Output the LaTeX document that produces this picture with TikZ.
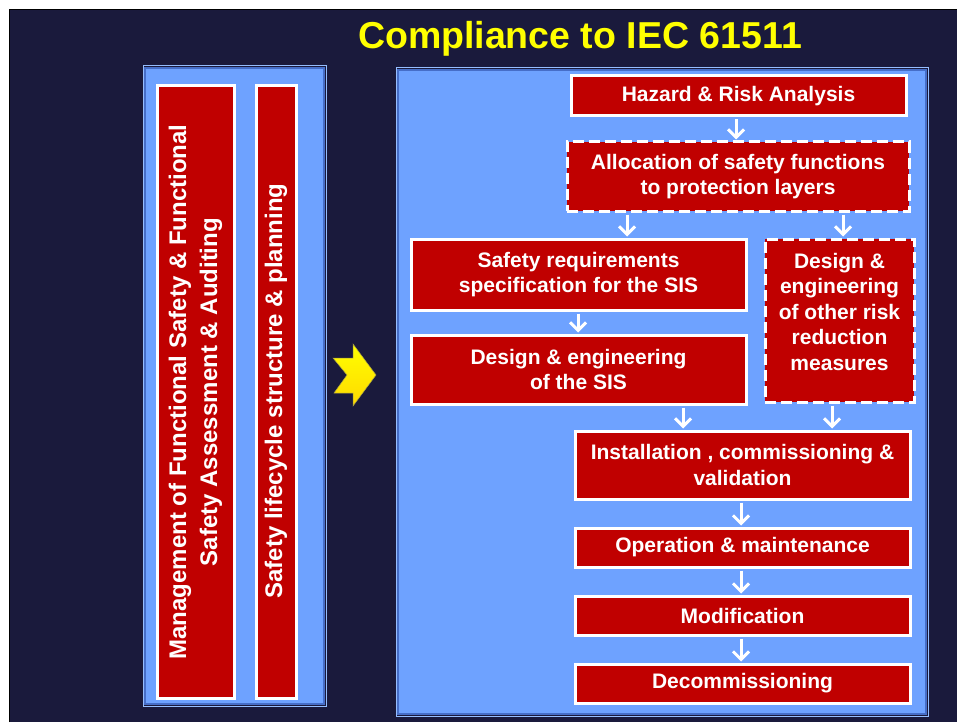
\documentclass[tikz,border=0pt]{standalone}
\usepackage{fontspec}
\setmainfont{Liberation Sans}
\usetikzlibrary{arrows.meta,calc}
\definecolor{navy}{RGB}{26,26,60}
\definecolor{panelblue}{RGB}{110,162,255}
\definecolor{paneledge}{RGB}{70,110,200}
\definecolor{panellight}{RGB}{150,190,255}
\definecolor{boxred}{RGB}{192,0,0}
\definecolor{titleyellow}{RGB}{255,255,0}
\tikzset{
  panel/.style={fill=panelblue, draw=paneledge, line width=2.5pt},
  redbox/.style={fill=boxred, draw=white, line width=3pt, text=white,
    font=\fontsize{21}{25.5}\selectfont\bfseries, align=center, inner sep=0pt},
  dashbox/.style={redbox, dash pattern=on 11pt off 5pt},
  vbox/.style={fill=boxred, draw=white, line width=3pt, inner sep=0pt},
  vtext/.style={text=white, font=\fontsize{24}{31}\selectfont\bfseries, align=center, rotate=90},
  flow/.style={draw=white, line width=3pt, -{Straight Barb[length=8pt,width=16pt,line width=3pt]},
    shorten <=2pt, shorten >=1pt}
}
\begin{document}
\begin{tikzpicture}[x=1pt,y=-1pt]
\useasboundingbox (0,0) rectangle (957,722);
\fill[white] (0,0) rectangle (957,722);
\fill[navy] (9,9) rectangle (957,722);
\draw[black,line width=1.5pt] (9.5,722) -- (9.5,9.5) -- (957,9.5);
% title
\node[text=titleyellow, font=\fontsize{37.5}{40}\selectfont\bfseries] (title) at (580,39) {Compliance to IEC 61511};
% panels
\draw[panel] (145,68) rectangle (324,704);
\draw[panellight, line width=1pt] (143,66) rectangle (326,706);
\draw[panel] (398,70) rectangle (926,714);
\draw[panellight, line width=1pt] (396,68) rectangle (928,716);
% left vertical boxes
\node[vbox, minimum width=77pt, minimum height=612pt] (mgmt) at (195.5,392) {};
\node[vtext] (mgmttext) at (mgmt.center) {Management of Functional Safety \& Functional\\Safety Assessment \& Auditing};
\node[vbox, minimum width=40pt, minimum height=612pt] (life) at (276,392) {};
\node[vtext] (lifetext) at ([yshift=1pt]life.center) {Safety lifecycle structure \& planning};
% yellow arrow
\shade[top color=titleyellow, bottom color=yellow!70!orange, draw=yellow!60!black, line width=0.5pt]
  (333,358) -- (353,358) -- (353,344) -- (376,375) -- (353,406) -- (353,393) -- (334,393) -- (347,375) -- cycle;
% flow boxes
\node[redbox, minimum width=335pt, minimum height=40pt] (haz) at (738.5,96) {Hazard \& Risk Analysis};
\node[dashbox, minimum width=342pt, minimum height=69pt] (alloc) at (738,176.5) {Allocation of safety functions\\to protection layers};
\node[redbox, minimum width=335pt, minimum height=71pt] (srs) at (578.5,274.5) {Safety requirements\\specification for the SIS};
\node[redbox, minimum width=335pt, minimum height=69pt] (dsis) at (578.5,369.5) {Design \& engineering\\of the SIS};
\node[dashbox, minimum width=149pt, minimum height=163pt] (other) at (839.5,320.5) {};
\node[redbox, draw=none, fill=none] (othertext) at ([yshift=9pt]other.center) {Design \&\\engineering\\of other risk\\reduction\\measures};
\node[redbox, minimum width=335pt, minimum height=68pt] (inst) at (742.5,465) {Installation , commissioning \&\\validation};
\node[redbox, minimum width=335pt, minimum height=39pt] (op) at (742.5,547.5) {Operation \& maintenance};
\node[redbox, minimum width=335pt, minimum height=39pt] (mod) at (742.5,615.5) {Modification};
\node[redbox, minimum width=335pt, minimum height=39pt] (dec) at (742.5,683.5) {Decommissioning};
% arrows
\draw[flow] (haz.south -| 736,0) -- (alloc.north -| 736,0);
\draw[flow] (alloc.south -| 627,0) -- (srs.north -| 627,0);
\draw[flow] (alloc.south -| 843,0) -- (other.north -| 843,0);
\draw[flow] (srs.south -| 578,0) -- (dsis.north -| 578,0);
\draw[flow] (dsis.south -| 683,0) -- (inst.north -| 683,0);
\draw[flow] (other.south -| 832,0) -- (inst.north -| 832,0);
\draw[flow] (inst.south -| 741,0) -- (op.north -| 741,0);
\draw[flow] (op.south -| 741,0) -- (mod.north -| 741,0);
\draw[flow] (mod.south -| 741,0) -- (dec.north -| 741,0);
\end{tikzpicture}
\end{document}
